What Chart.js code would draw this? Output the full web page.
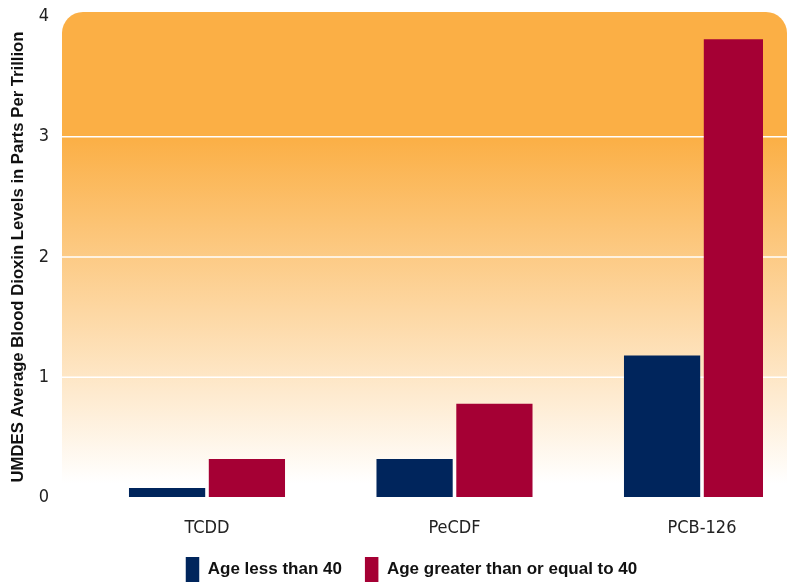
<!DOCTYPE html>
<html>
<head>
<meta charset="utf-8">
<title>UMDES Average Blood Dioxin Levels</title>
<script src="https://cdn.jsdelivr.net/npm/chart.js@4.4.1/dist/chart.umd.min.js"></script>
<style>
  html, body { margin: 0; padding: 0; background: #fff; }
  #chart { display: block; }
</style>
</head>
<body>
<canvas id="chart" width="787" height="582"></canvas>
<script>
const categories = ['TCDD', 'PeCDF', 'PCB-126'];
const seriesNames = ['Age less than 40', 'Age greater than or equal to 40'];
const under40 = [0.08, 0.32, 1.18];
const over40 = [0.32, 0.78, 3.81];
const yTicks = [0, 1, 2, 3, 4];

const NAVY = '#00255c';
const CRIMSON = '#a50034';
const ORANGE = '#fbaf45';
const TICK_FONT = { family: "'DejaVu Sans Condensed', 'Liberation Sans Narrow', sans-serif", size: 18, lineHeight: 1 };
const BOLD_FONT = "'Liberation Sans', Arial, sans-serif";

// orange panel with rounded top corners, fading to white, plus white grid lines
const panelPlugin = {
  id: 'panel',
  afterLayout(chart) {
    // the original legend is centred a bit right of the canvas middle
    chart.legend.left = 36;
    chart.legend.right = chart.width;
  },
  beforeDraw(chart) {
    const { ctx, chartArea, scales: { y } } = chart;
    const left = 62, right = chart.width, r = 21;
    const top = chartArea.top - 4.5;
    const bottom = chartArea.bottom - 14;
    const solidUntil = y.getPixelForValue(3);

    const g = ctx.createLinearGradient(0, top, 0, bottom);
    g.addColorStop(0, ORANGE);
    g.addColorStop((solidUntil - top) / (bottom - top), ORANGE);
    g.addColorStop(1, '#ffffff');

    ctx.save();
    ctx.beginPath();
    ctx.moveTo(left, bottom);
    ctx.lineTo(left, top + r);
    ctx.arcTo(left, top, left + r, top, r);
    ctx.lineTo(right - r, top);
    ctx.arcTo(right, top, right, top + r, r);
    ctx.lineTo(right, bottom);
    ctx.closePath();
    ctx.fillStyle = g;
    ctx.fill();

    ctx.strokeStyle = '#ffffff';
    ctx.lineWidth = 1.5;
    y.ticks.forEach(t => {
      if (t.value <= y.min || t.value >= y.max) return;
      const py = y.getPixelForValue(t.value);
      ctx.beginPath();
      ctx.moveTo(left, py);
      ctx.lineTo(right, py);
      ctx.stroke();
    });
    ctx.restore();
  }
};

new Chart(document.getElementById('chart'), {
  type: 'bar',
  data: {
    labels: categories,
    datasets: [
      {
        label: seriesNames[0],
        data: under40,
        backgroundColor: NAVY,
        borderWidth: 0,
        categoryPercentage: 0.645,
        barPercentage: 0.955,
        clip: false,
      },
      {
        label: seriesNames[1],
        data: over40,
        backgroundColor: CRIMSON,
        borderWidth: 0,
        categoryPercentage: 0.645,
        barPercentage: 0.955,
        // last bar is cut short at the right in the original
        clip: { left: false, top: false, right: 61, bottom: false },
      },
    ],
  },
  options: {
    responsive: false,
    animation: false,
    layout: { padding: { left: 0, right: 85, top: 16.5, bottom: -10 } },
    plugins: {
      legend: {
        position: 'bottom',
        labels: {
          boxWidth: 13.5,
          boxHeight: 25,
          padding: 23,
          color: '#111111',
          font: { family: BOLD_FONT, size: 17, weight: 'bold' },
        },
      },
      tooltip: { enabled: false },
    },
    scales: {
      x: {
        offset: false,
        grid: { display: false },
        border: { display: false },
        ticks: { padding: 14, color: '#222222', font: TICK_FONT },
        afterFit(axis) { axis.height = 36.5; },
      },
      y: {
        min: 0,
        max: 4,
        afterBuildTicks(axis) { axis.ticks = yTicks.map(v => ({ value: v })); },
        grid: { drawOnChartArea: false, tickLength: 158, tickColor: 'rgba(0,0,0,0)' },
        border: { display: false },
        ticks: { padding: 0, color: '#222222', font: TICK_FONT },
        title: {
          display: true,
          text: 'UMDES Average Blood Dioxin Levels in Parts Per Trillion',
          color: '#111111',
          font: { family: BOLD_FONT, size: 16.7, weight: 'bold' },
          padding: { top: 8.5, bottom: 0 },
        },
        afterFit(axis) { axis.width = 207; },
      },
    },
  },
  plugins: [panelPlugin],
});
</script>
</body>
</html>
